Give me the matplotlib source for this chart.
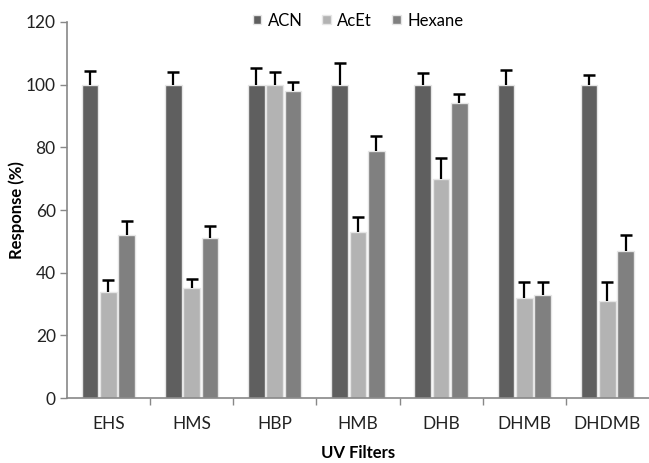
import numpy as np
import matplotlib.pyplot as plt
from matplotlib.ticker import FixedLocator

plt.rcParams['font.family'] = ['Lato', 'DejaVu Sans']

# values
filters = ['EHS', 'HMS', 'HBP', 'HMB', 'DHB', 'DHMB', 'DHDMB']
acn = [100, 100, 100, 100, 100, 100, 100]
acet = [34, 35, 100, 53, 70, 32, 31]
hexane = [52, 51, 98, 79, 94, 33, 47]
acn_err = [4.5, 4.0, 5.3, 6.8, 3.7, 4.7, 3.0]
acet_err = [3.7, 3.0, 4.0, 4.8, 6.5, 5.0, 6.0]
hexane_err = [4.5, 4.0, 2.7, 4.6, 3.0, 4.0, 5.0]

series = [('ACN', acn, acn_err, '#5f5f5f'),
          ('AcEt', acet, acet_err, '#b3b3b3'),
          ('Hexane', hexane, hexane_err, '#808080')]

fig = plt.figure(figsize=(6.49, 4.63), dpi=100)
ax = fig.add_axes([0.103, 0.140, 0.897, 0.8125])

x = np.arange(len(filters))
width = 0.2
offsets = [-0.22, 0, 0.22]

for (name, vals, err, col), off in zip(series, offsets):
    vals = np.array(vals, dtype=float)
    top = vals + np.array(err)
    ax.bar(x + off, vals, width, color=col, edgecolor='#e6e6e6', linewidth=1.0,
           label=name, zorder=2)
    # upper error only, T shaped
    ax.vlines(x + off, vals, top, color='black', linewidth=1.6, zorder=3)
    ax.plot(x + off, top, ls='none', marker='_', markersize=8, mew=1.8,
            color='black', zorder=3)

ax.set_xlim(-0.5, len(filters) - 0.5)
ax.set_ylim(0, 120)
ax.set_yticks(range(0, 121, 20))
ax.set_xticks(x)
ax.set_xticklabels(filters)
ax.xaxis.set_minor_locator(FixedLocator(np.arange(0.5, len(filters) - 0.5, 1)))
ax.tick_params(axis='x', which='major', length=0, pad=13, labelsize=12.5, colors='#222222')
ax.tick_params(axis='x', which='minor', length=5, width=1, color='#888888', direction='out')
ax.tick_params(axis='y', length=5, width=1, color='#888888', labelcolor='#222222',
               labelsize=12.5, pad=3)

for side in ['top', 'right']:
    ax.spines[side].set_visible(False)
for side in ['left', 'bottom']:
    ax.spines[side].set_color('#888888')
    ax.spines[side].set_linewidth(1.2)

ax.set_ylabel('Response (%)', fontweight='bold', fontsize=12)
ax.yaxis.set_label_coords(-0.072, 0.5)
ax.set_xlabel('UV Filters', fontweight='bold', fontsize=12)
ax.xaxis.set_label_coords(0.5, -0.124)

leg = ax.legend(loc='upper center', bbox_to_anchor=(0.5, 1.065), ncol=3, frameon=False,
                fontsize=12, handlelength=0.5, handleheight=0.5, handletextpad=0.4,
                columnspacing=1.2)

fig.savefig('out.png', dpi=100)
